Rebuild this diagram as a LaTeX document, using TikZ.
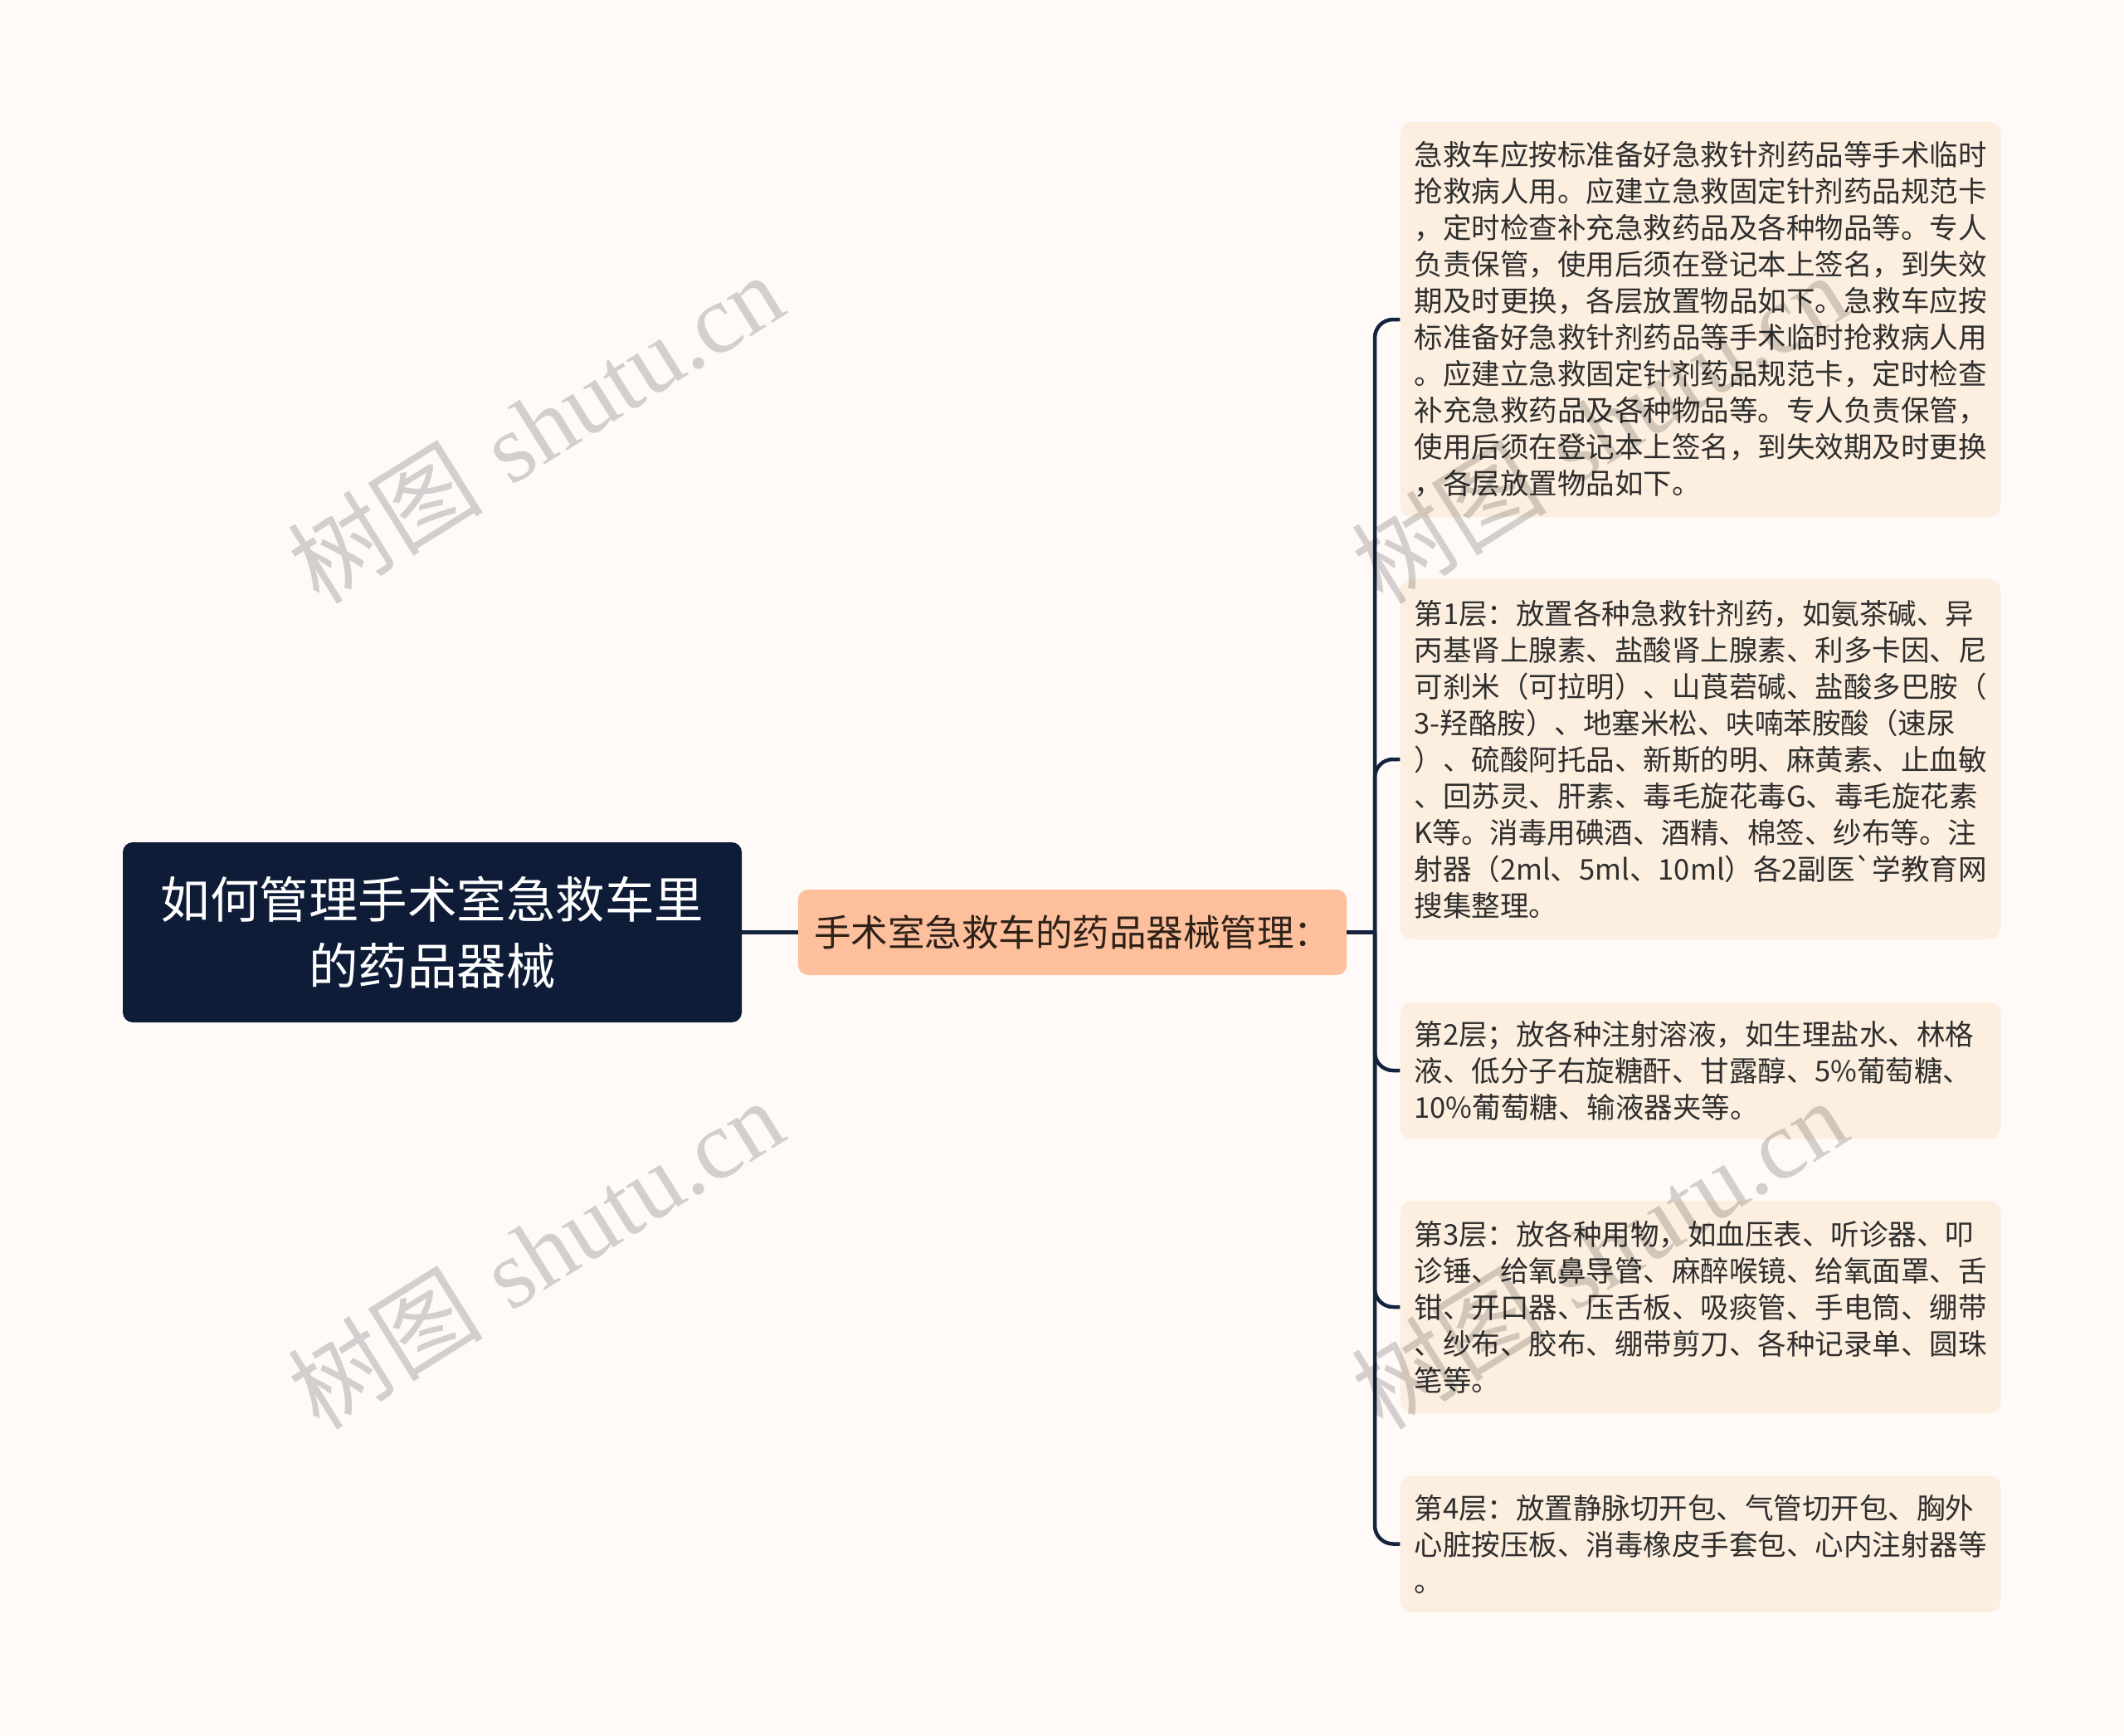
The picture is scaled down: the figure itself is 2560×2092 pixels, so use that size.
\documentclass[tikz,border=0pt]{standalone}
\usepackage{fontspec}
\newfontfamily\cjk{Noto Sans CJK SC}
\newfontfamily\wmlatin{Liberation Serif}
\font\rawcjk="Noto Sans CJK SC" at 34.5pt
\definecolor{bgc}{HTML}{FFFAF8}
\definecolor{rootc}{HTML}{0E1C37}
\definecolor{midc}{HTML}{FDBF9C}
\definecolor{leafc}{HTML}{FDEFDF}
\definecolor{linec}{HTML}{14233D}
\definecolor{txtc}{HTML}{2E2E2E}
\definecolor{midtxt}{HTML}{2D2118}
\begin{document}
\begin{tikzpicture}[x=1pt,y=-1pt,
  rootbox/.style={fill=rootc, rounded corners=12pt, text=white, minimum width=746pt,
    minimum height=217pt, inner sep=0pt, align=center,
    font=\cjk\fontsize{59.5}{80}\selectfont},
  midbox/.style={fill=midc, rounded corners=12pt, text=midtxt, minimum width=661pt,
    minimum height=103pt, inner sep=0pt, font=\cjk\fontsize{44.5}{50}\selectfont},
  leafbox/.style={fill=leafc, rounded corners=14pt, text=txtc, text width=690pt,
    inner xsep=17pt, inner ysep=0pt, align=left,
    font=\cjk\fontsize{34.5}{44}\selectfont},
  link/.style={draw=linec, line width=4.5pt},
  wm/.style={text=black, opacity=0.17, inner sep=0pt, font=\fontsize{118}{130}\selectfont}
]
\fill[bgc] (0,0) rectangle (2560,2092);
\useasboundingbox (0,0) rectangle (2560,2092);

\node[rootbox] (root) at (521,1123.5) {如何管理手术室急救车里\\的药品器械};
\node[midbox] (mid) at (1292.5,1123.5) {手术室急救车的药品器械管理：};

\node[leafbox, minimum height=476pt] (l1) at (2049.5,385) {急救车应按标准备好急救针剂药品等手术临时\\抢救病人用。应建立急救固定针剂药品规范卡\\，定时检查补充急救药品及各种物品等。专人\\负责保管，使用后须在登记本上签名，到失效\\期及时更换，各层放置物品如下。急救车应按\\标准备好急救针剂药品等手术临时抢救病人用\\。应建立急救固定针剂药品规范卡，定时检查\\补充急救药品及各种物品等。专人负责保管，\\使用后须在登记本上签名，到失效期及时更换\\，各层放置物品如下。};

\node[leafbox, minimum height=434pt] (l2) at (2049.5,915) {第1层：放置各种急救针剂药，如氨茶碱、异\\丙基肾上腺素、盐酸肾上腺素、利多卡因、尼\\可刹米（可拉明）、山莨菪碱、盐酸多巴胺（\\3-羟酪胺）、地塞米松、呋喃苯胺酸（速尿\\）、硫酸阿托品、新斯的明、麻黄素、止血敏\\、回苏灵、肝素、毒毛旋花毒G、毒毛旋花素\\K等。消毒用碘酒、酒精、棉签、纱布等。注\\射器（2ml、5ml、10ml）各2副医{\rawcjk `}学教育网\\搜集整理。};

\node[leafbox, minimum height=165pt] (l3) at (2049.5,1290) {第2层；放各种注射溶液，如生理盐水、林格\\液、低分子右旋糖酐、甘露醇、5\%葡萄糖、\\10\%葡萄糖、输液器夹等。};

\node[leafbox, minimum height=256pt] (l4) at (2049.5,1575) {第3层：放各种用物，如血压表、听诊器、叩\\诊锤、给氧鼻导管、麻醉喉镜、给氧面罩、舌\\钳、开口器、压舌板、吸痰管、手电筒、绷带\\、纱布、胶布、绷带剪刀、各种记录单、圆珠\\笔等。};

\node[leafbox, minimum height=165pt] (l5) at (2049.5,1860.5) {第4层：放置静脉切开包、气管切开包、胸外\\心脏按压板、消毒橡皮手套包、心内注射器等\\。};

\coordinate (jn) at (1657,1123.5);
\draw[link] (root.east) -- (mid.west);
\draw[link] (mid.east) -- (jn);
\foreach \l in {l1,l2,l3,l4,l5}{
  \draw[link, rounded corners=22pt] (jn) |- (\l.west);
}

\foreach \p/\q in {645/515, 645/1510, 1927/515, 1927/1510}{
  \node[wm, rotate=32] (wm-\p-\q) at (\p,\q) {{\cjk 树图} {\wmlatin shutu.cn}};
}
\end{tikzpicture}
\end{document}
